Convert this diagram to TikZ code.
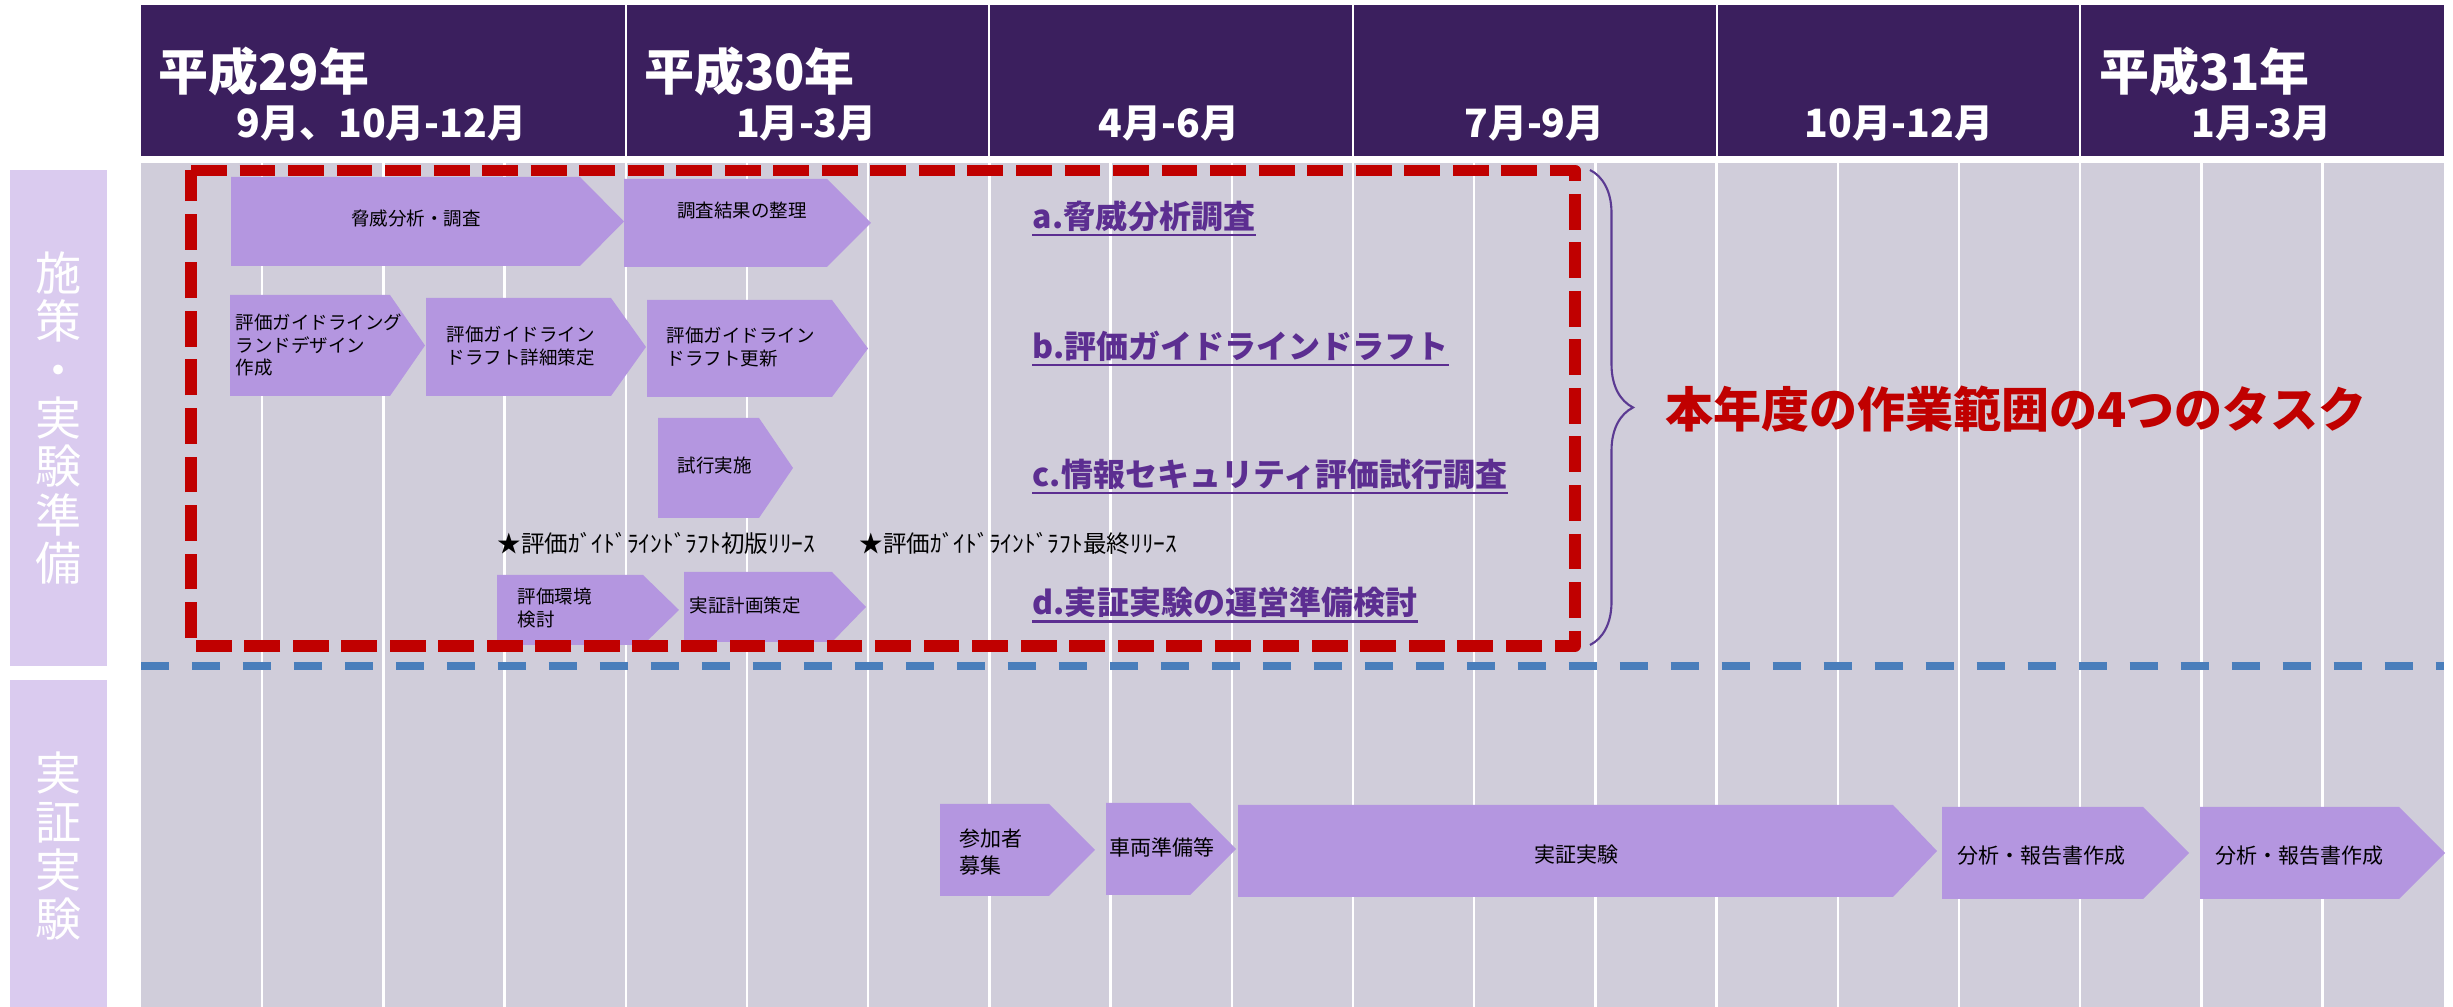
\documentclass[tikz,border=0pt]{standalone}
\usepackage{fontspec}
\setmainfont{Noto Sans CJK JP}
\usetikzlibrary{decorations.pathreplacing}
\definecolor{hdr}{HTML}{3B1F5E}
\definecolor{bodyg}{HTML}{D0CDDA}
\definecolor{lbl}{HTML}{DACBEF}
\definecolor{arw}{HTML}{B496E0}
\definecolor{redd}{HTML}{C00000}
\definecolor{blued}{HTML}{4A7EBB}
\definecolor{task}{HTML}{5C2E91}
\definecolor{brc}{HTML}{5B3A92}
\newcommand\fsz[2]{\fontsize{#1pt}{#2pt}\selectfont}
\newcommand\chev[5]{\fill[arw] (#1,#2) -- (#3,#2) -- (#4,{(#2+#5)/2}) -- (#3,#5) -- (#1,#5) -- cycle;}
\begin{document}
\begin{tikzpicture}[x=0.01cm,y=-0.01cm,
  yeartxt/.style={text=white,inner sep=0,font=\bfseries\fsz{14.2}{16}},
  montxt/.style={text=white,inner sep=0,font=\bfseries\fsz{11.1}{13}},
  vlabel/.style={text=white,inner sep=0,align=center,font=\fsz{13.1}{13.75}},
  intxt/.style={inner sep=0,align=left,anchor=west,font=\fsz{5.26}{6.4}},
  botxt/.style={inner sep=0,align=left,anchor=west,font=\fsz{5.97}{7.8}},
  startxt/.style={inner sep=0,anchor=west,font=\fsz{6.69}{8}},
  tasklbl/.style={inner sep=0,anchor=west,text=task,font=\bfseries\fsz{9.1}{11}},
  bigtxt/.style={inner sep=0,text=redd,font=\bfseries\fsz{13.66}{15}},
  monthline/.style={white,line width=0.7pt},
  sepline/.style={white,line width=0.6pt},
  reddash/.style={redd,line width=3.4pt,dash pattern=on 10.2pt off 3.6pt,line join=round},
  bluedash/.style={blued,line width=2pt,dash pattern=on 8pt off 6.5pt},
  ulineSt/.style={task,line width=0.7pt}
]
\useasboundingbox (0,0) rectangle (2453,1007);
% body background
\fill[bodyg] (141,163) rectangle (2443.8,1007);
\foreach \k in {1,...,18} \draw[monthline] ({141+\k*121.2},163) -- ({141+\k*121.2},1007);
% header
\fill[hdr] (141,5) rectangle (2443.8,156);
\foreach \k in {4,7,10,13,16} \draw[sepline] ({141+\k*121.2},5) -- ({141+\k*121.2},156);
\node[yeartxt] (y29) at (264,71.5) {平成29年};
\node[montxt] (m1) at (381.5,123.5) {9月、10月-12月};
\node[yeartxt] (y30) at (749.5,71.5) {平成30年};
\node[montxt] (m2) at (806.5,123.5) {1月-3月};
\node[montxt] (m3) at (1169,123.5) {4月-6月};
\node[montxt] (m4) at (1534.5,123.5) {7月-9月};
\node[montxt] (m5) at (1899,123.5) {10月-12月};
\node[yeartxt] (y31) at (2204.5,71.5) {平成31年};
\node[montxt] (m6) at (2261.5,123.5) {1月-3月};
% left labels
\fill[lbl] (10,170) rectangle (107,666);
\node[vlabel] (lab1) at (58.5,418) {施\\策\\・\\実\\験\\準\\備};
\fill[lbl] (10,680) rectangle (107,1007);
\node[vlabel] (lab2) at (58.5,846) {実\\証\\実\\験};
% chevrons top
\chev{231}{177}{580}{624}{266}
\chev{624}{179}{827}{871}{267}
\chev{230}{295}{390}{425}{396}
\chev{426}{298}{611}{646}{396}
\chev{647}{300}{832}{868}{397}
\chev{658}{418}{759}{793}{518}
\chev{497}{575}{643}{679}{645}
\chev{684}{572}{832}{866}{642}
% chevrons bottom
\chev{940}{804}{1049}{1095}{896}
\chev{1106}{803}{1190}{1236}{895}
\chev{1238}{805}{1893}{1937}{897}
\chev{1942}{807}{2143}{2189}{899}
\chev{2200}{807}{2399}{2445}{899}
% texts in chevrons
\node[intxt,anchor=center] (t1) at (416,219) {脅威分析・調査};
\node[intxt,anchor=center] (t2) at (742,211) {調査結果の整理};
\node[intxt] (t3) at (235,345.5) {評価ガイドライング\\ランドデザイン\\作成};
\node[intxt] (t4) at (446,346) {評価ガイドライン\\ドラフト詳細策定};
\node[intxt] (t5) at (666,347) {評価ガイドライン\\ドラフト更新};
\node[intxt] (t6) at (677,465.5) {試行実施};
\node[intxt] (t9) at (517,608) {評価環境\\検討};
\node[intxt] (t10) at (689,605.5) {実証計画策定};
\node[botxt] (t11) at (959,852) {参加者\\募集};
\node[botxt] (t12) at (1109,847.5) {車両準備等};
\node[botxt,anchor=center] (t13) at (1576,855) {実証実験};
\node[botxt] (t14) at (1957,856) {分析・報告書作成};
\node[botxt] (t15) at (2215,856) {分析・報告書作成};
% star milestones
\node[startxt] (s1) at (497,543) {★評価ｶﾞｲﾄﾞﾗｲﾝﾄﾞﾗﾌﾄ初版ﾘﾘｰｽ};
\node[startxt] (s2) at (859,543) {★評価ｶﾞｲﾄﾞﾗｲﾝﾄﾞﾗﾌﾄ最終ﾘﾘｰｽ};
% red dashed frame
\coordinate (rA) at (191,170.5);
\coordinate (rB) at (1575,170.5);
\coordinate (rC) at (1575,646);
\coordinate (rD) at (191,646);
\draw[reddash] (rA) -- (rB) -- (rC) -- (rD) -- cycle;
% brace
\coordinate (bT) at (1590,170);
\coordinate (bB) at (1590,645);
\draw[brc,line width=0.6pt,decorate,decoration={brace,amplitude=0.43cm}] (bT) -- (bB);
% task labels
\node[tasklbl] (ta) at (1032,216) {a.脅威分析調査};
\node[tasklbl] (tb) at (1032,346) {b.評価ガイドラインドラフト};
\node[tasklbl] (tc) at (1032,474) {c.情報セキュリティ評価試行調査};
\node[tasklbl] (td) at (1032,602.5) {d.実証実験の運営準備検討};
\foreach \n in {ta,tb,tc,td} \draw[ulineSt] ([yshift=-0.8pt]\n.south west) -- ([yshift=-0.8pt]\n.south east);
\node[bigtxt] (big) at (2016,409) {本年度の作業範囲の4つのタスク};
% blue dashed separator
\coordinate (bl1) at (141,666);
\coordinate (bl2) at (2443.8,666);
\draw[bluedash] (bl1) -- (bl2);
\end{tikzpicture}
\end{document}
